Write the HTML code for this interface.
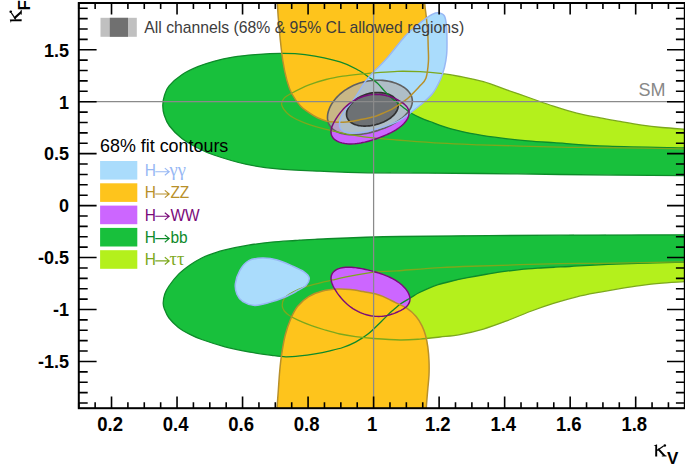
<!DOCTYPE html>
<html><head><meta charset="utf-8"><style>
html,body{margin:0;padding:0;background:#fff;width:685px;height:470px;overflow:hidden}
svg{display:block}

</style></head><body>
<svg width="685" height="470" viewBox="0 0 685 470">
<defs><clipPath id="fr"><rect x="78.8" y="3" width="606" height="405.2"/></clipPath></defs>
<rect width="685" height="470" fill="#fff"/>
<g clip-path="url(#fr)">
<path d="M281.80,105.30 C281.03,102.62 282.30,100.35 284.00,98.30 C285.70,96.25 287.83,95.23 292.00,93.00 C296.17,90.77 303.33,87.15 309.00,84.90 C314.67,82.65 320.33,80.95 326.00,79.50 C331.67,78.05 337.33,77.08 343.00,76.20 C348.67,75.32 354.67,74.75 360.00,74.20 C365.33,73.65 368.77,73.38 375.00,72.90 C381.23,72.42 389.90,71.50 397.40,71.30 C404.90,71.10 412.83,71.35 420.00,71.70 C427.17,72.05 433.73,72.60 440.40,73.40 C447.07,74.20 452.83,75.12 460.00,76.50 C467.17,77.88 475.62,79.47 483.40,81.70 C491.18,83.93 498.92,87.18 506.70,89.90 C514.48,92.62 522.32,95.28 530.10,98.00 C537.88,100.72 545.62,103.67 553.40,106.20 C561.18,108.73 569.00,111.25 576.80,113.20 C584.60,115.15 593.00,116.53 600.20,117.90 C607.40,119.27 613.37,120.25 620.00,121.40 C626.63,122.55 633.00,123.78 640.00,124.80 C647.00,125.82 654.50,126.78 662.00,127.50 C669.50,128.22 677.00,128.60 685.00,129.10 C693.00,129.60 705.83,127.10 710.00,130.50 C714.17,133.90 714.17,146.43 710.00,149.50 C705.83,152.57 703.33,149.23 685.00,148.90 C666.67,148.57 620.83,147.78 600.00,147.50 C579.17,147.22 580.00,147.65 560.00,147.20 C540.00,146.75 499.90,145.47 480.00,144.80 C460.10,144.13 454.47,144.00 440.60,143.20 C426.73,142.40 407.73,140.83 396.80,140.00 C385.87,139.17 382.55,139.07 375.00,138.20 C367.45,137.33 358.25,135.93 351.50,134.80 C344.75,133.67 340.17,132.67 334.50,131.40 C328.83,130.13 323.17,128.90 317.50,127.20 C311.83,125.50 305.32,123.33 300.50,121.20 C295.68,119.07 291.72,117.05 288.60,114.40 C285.48,111.75 282.57,107.98 281.80,105.30 Z" fill="#b4f01c"/>
<path d="M282.20,305.50 C282.23,303.33 282.85,300.17 284.50,298.00 C286.15,295.83 289.02,294.25 292.10,292.50 C295.18,290.75 298.77,288.98 303.00,287.50 C307.23,286.02 312.25,284.92 317.50,283.60 C322.75,282.28 328.83,280.90 334.50,279.60 C340.17,278.30 344.75,277.03 351.50,275.80 C358.25,274.57 367.45,273.03 375.00,272.20 C382.55,271.37 385.87,271.57 396.80,270.80 C407.73,270.03 426.73,268.40 440.60,267.60 C454.47,266.80 460.10,266.67 480.00,266.00 C499.90,265.33 540.00,264.05 560.00,263.60 C580.00,263.15 579.17,263.58 600.00,263.30 C620.83,263.02 666.67,262.23 685.00,261.90 C703.33,261.57 705.83,258.23 710.00,261.30 C714.17,264.37 714.17,276.92 710.00,280.30 C705.83,283.68 693.00,281.12 685.00,281.60 C677.00,282.08 669.50,282.53 662.00,283.20 C654.50,283.87 647.00,284.70 640.00,285.60 C633.00,286.50 626.63,287.52 620.00,288.60 C613.37,289.68 607.40,290.73 600.20,292.10 C593.00,293.47 584.60,294.92 576.80,296.80 C569.00,298.68 561.18,300.95 553.40,303.40 C545.62,305.85 537.88,308.58 530.10,311.50 C522.32,314.42 514.48,317.97 506.70,320.90 C498.92,323.83 491.18,326.82 483.40,329.10 C475.62,331.38 467.23,333.28 460.00,334.60 C452.77,335.92 446.67,336.25 440.00,337.00 C433.33,337.75 426.67,338.60 420.00,339.10 C413.33,339.60 407.77,340.10 400.00,340.00 C392.23,339.90 380.82,339.07 373.40,338.50 C365.98,337.93 361.07,337.35 355.50,336.60 C349.93,335.85 345.08,335.10 340.00,334.00 C334.92,332.90 329.75,331.38 325.00,330.00 C320.25,328.62 316.00,327.33 311.50,325.70 C307.00,324.07 301.68,321.90 298.00,320.20 C294.32,318.50 291.68,317.03 289.40,315.50 C287.12,313.97 285.50,312.67 284.30,311.00 C283.10,309.33 282.17,307.67 282.20,305.50 Z" fill="#b4f01c"/>
<path d="M162.80,105.00 C162.87,101.67 163.55,98.20 164.60,95.00 C165.65,91.80 166.22,89.18 169.10,85.80 C171.98,82.42 177.12,77.88 181.90,74.70 C186.68,71.52 192.48,68.93 197.80,66.70 C203.12,64.47 207.95,62.90 213.80,61.30 C219.65,59.70 225.98,58.22 232.90,57.10 C239.82,55.98 247.32,55.23 255.30,54.60 C263.28,53.97 272.52,53.30 280.80,53.30 C289.08,53.30 295.13,53.18 305.00,54.60 C314.87,56.02 331.00,59.15 340.00,61.80 C349.00,64.45 354.00,67.80 359.00,70.50 C364.00,73.20 366.92,75.88 370.00,78.00 C373.08,80.12 375.02,80.97 377.50,83.20 C379.98,85.43 382.42,88.80 384.90,91.40 C387.38,94.00 389.92,96.57 392.40,98.80 C394.88,101.03 397.57,103.05 399.80,104.80 C402.03,106.55 404.10,108.02 405.80,109.30 C407.50,110.58 407.63,111.12 410.00,112.50 C412.37,113.88 416.67,116.10 420.00,117.60 C423.33,119.10 424.83,119.63 430.00,121.50 C435.17,123.37 443.25,126.65 451.00,128.80 C458.75,130.95 468.00,132.83 476.50,134.40 C485.00,135.97 493.48,137.13 502.00,138.20 C510.52,139.27 518.93,140.05 527.60,140.80 C536.27,141.55 540.60,141.80 554.00,142.70 C567.40,143.60 586.17,145.32 608.00,146.20 C629.83,147.08 668.00,147.62 685.00,148.00 C702.00,148.38 705.83,143.83 710.00,148.50 C714.17,153.17 714.17,171.47 710.00,176.00 C705.83,180.53 710.00,175.95 685.00,175.70 C660.00,175.45 594.17,174.87 560.00,174.50 C525.83,174.13 512.07,173.78 480.00,173.50 C447.93,173.22 394.27,173.18 367.60,172.80 C340.93,172.42 335.00,171.85 320.00,171.20 C305.00,170.55 289.98,170.07 277.60,168.90 C265.22,167.73 256.33,166.52 245.70,164.20 C235.07,161.88 221.78,157.70 213.80,155.00 C205.82,152.30 203.12,150.75 197.80,148.00 C192.48,145.25 186.62,142.17 181.90,138.50 C177.18,134.83 172.45,129.92 169.50,126.00 C166.55,122.08 165.32,118.50 164.20,115.00 C163.08,111.50 162.73,108.33 162.80,105.00 Z" fill="#18c03c"/>
<path d="M163.20,303.00 C163.28,300.55 163.83,296.83 164.80,294.00 C165.77,291.17 166.73,289.27 169.00,286.00 C171.27,282.73 174.90,277.90 178.40,274.40 C181.90,270.90 186.12,267.73 190.00,265.00 C193.88,262.27 197.80,259.93 201.70,258.00 C205.60,256.07 209.52,254.75 213.40,253.40 C217.28,252.05 219.17,251.27 225.00,249.90 C230.83,248.53 240.60,246.50 248.40,245.20 C256.20,243.90 264.00,242.88 271.80,242.10 C279.60,241.32 288.00,240.97 295.20,240.50 C302.40,240.03 297.53,239.97 315.00,239.30 C332.47,238.63 359.17,237.18 400.00,236.50 C440.83,235.82 512.50,235.48 560.00,235.20 C607.50,234.92 660.00,234.92 685.00,234.80 C710.00,234.68 705.83,229.97 710.00,234.50 C714.17,239.03 714.17,257.38 710.00,262.00 C705.83,266.62 702.00,261.82 685.00,262.20 C668.00,262.58 627.17,263.58 608.00,264.30 C588.83,265.02 578.82,266.02 570.00,266.50 C561.18,266.98 560.50,266.92 555.10,267.20 C549.70,267.48 543.45,267.80 537.60,268.20 C531.75,268.60 525.83,269.02 520.00,269.60 C514.17,270.18 508.43,270.88 502.60,271.70 C496.77,272.52 490.85,273.50 485.00,274.50 C479.15,275.50 473.33,276.53 467.50,277.70 C461.67,278.87 454.90,280.35 450.00,281.50 C445.10,282.65 441.68,283.47 438.10,284.60 C434.52,285.73 431.70,286.93 428.50,288.30 C425.30,289.67 421.93,291.18 418.90,292.80 C415.87,294.42 413.33,296.17 410.30,298.00 C407.27,299.83 403.25,302.05 400.70,303.80 C398.15,305.55 396.78,307.00 395.00,308.50 C393.22,310.00 392.32,310.60 390.00,312.80 C387.68,315.00 384.72,318.20 381.10,321.70 C377.48,325.20 372.57,330.40 368.30,333.80 C364.03,337.20 359.75,339.82 355.50,342.10 C351.25,344.38 347.05,346.05 342.80,347.50 C338.55,348.95 334.63,349.75 330.00,350.80 C325.37,351.85 320.00,352.95 315.00,353.80 C310.00,354.65 304.87,355.40 300.00,355.90 C295.13,356.40 290.50,356.88 285.80,356.80 C281.10,356.72 278.03,356.22 271.80,355.40 C265.57,354.58 256.20,353.33 248.40,351.90 C240.60,350.47 232.78,348.87 225.00,346.80 C217.22,344.73 207.53,341.57 201.70,339.50 C195.87,337.43 193.88,336.42 190.00,334.40 C186.12,332.38 181.90,330.13 178.40,327.40 C174.90,324.67 171.35,321.12 169.00,318.00 C166.65,314.88 165.27,311.20 164.30,308.70 C163.33,306.20 163.12,305.45 163.20,303.00 Z" fill="#18c03c"/>
<path d="M406.56,106.44 L407.27,107.41 L407.87,108.43 L408.36,109.51 L408.72,110.64 L408.94,111.82 L409.02,113.05 L408.93,114.32 L408.68,115.63 L408.27,116.96 L407.69,118.31 L406.94,119.66 L406.03,121.02 L404.97,122.36 L403.76,123.69 L402.42,124.99 L400.97,126.25 L399.40,127.48 L397.75,128.65 L396.03,129.78 L394.25,130.85 L392.43,131.87 L390.57,132.84 L388.70,133.75 L386.82,134.62 L384.94,135.44 L383.07,136.21 L381.21,136.95 L379.36,137.65 L377.52,138.31 L375.68,138.95 L373.86,139.55 L372.03,140.13 L370.20,140.69 L368.36,141.21 L366.50,141.70 L364.63,142.16 L362.73,142.58 L360.82,142.96 L358.88,143.28 L356.93,143.55 L354.97,143.76 L353.01,143.89 L351.05,143.95 L349.11,143.92 L347.20,143.81 L345.34,143.61 L343.53,143.31 L341.81,142.91 L340.17,142.42 L338.64,141.84 L337.22,141.17 L335.94,140.42 L334.79,139.58 L333.79,138.67 L332.95,137.70 L332.25,136.67 L331.72,135.59 L331.33,134.47 L331.08,133.33 L330.98,132.15 L331.00,130.96 L331.14,129.76 L331.39,128.55 L331.74,127.34 L332.17,126.13 L332.67,124.92 L333.23,123.71 L333.85,122.51 L334.52,121.30 L335.23,120.09 L335.98,118.87 L336.77,117.65 L337.59,116.42 L338.46,115.18 L339.37,113.93 L340.33,112.67 L341.35,111.40 L342.43,110.13 L343.59,108.86 L344.82,107.59 L346.13,106.34 L347.53,105.10 L349.01,103.89 L350.58,102.71 L352.24,101.59 L353.99,100.51 L355.81,99.51 L357.70,98.57 L359.66,97.72 L361.66,96.96 L363.70,96.30 L365.77,95.73 L367.84,95.26 L369.91,94.90 L371.97,94.64 L373.99,94.48 L375.97,94.41 L377.91,94.43 L379.78,94.54 L381.59,94.73 L383.34,94.98 L385.01,95.30 L386.62,95.67 L388.16,96.08 L389.63,96.53 L391.05,97.01 L392.41,97.52 L393.73,98.05 L395.00,98.61 L396.23,99.18 L397.43,99.77 L398.60,100.38 L399.74,101.01 L400.85,101.67 L401.93,102.36 L402.96,103.09 L403.96,103.86 L404.89,104.67 L405.76,105.53 Z" fill="#cc66ff"/>
<path d="M407.65,305.31 L406.89,306.15 L406.05,306.95 L405.14,307.69 L404.18,308.39 L403.16,309.05 L402.10,309.68 L400.99,310.29 L399.85,310.88 L398.68,311.44 L397.46,312.00 L396.20,312.53 L394.90,313.06 L393.56,313.57 L392.16,314.06 L390.70,314.52 L389.19,314.95 L387.61,315.34 L385.96,315.69 L384.24,315.97 L382.46,316.20 L380.61,316.35 L378.71,316.41 L376.75,316.39 L374.74,316.27 L372.70,316.05 L370.63,315.73 L368.55,315.30 L366.46,314.77 L364.39,314.14 L362.34,313.42 L360.34,312.60 L358.38,311.69 L356.48,310.72 L354.64,309.67 L352.89,308.57 L351.21,307.42 L349.62,306.23 L348.12,305.02 L346.69,303.79 L345.36,302.54 L344.10,301.29 L342.91,300.04 L341.79,298.79 L340.74,297.55 L339.74,296.31 L338.79,295.08 L337.88,293.86 L337.02,292.64 L336.21,291.42 L335.43,290.20 L334.69,288.98 L334.00,287.76 L333.36,286.53 L332.78,285.29 L332.26,284.05 L331.82,282.81 L331.47,281.56 L331.22,280.32 L331.07,279.09 L331.05,277.88 L331.16,276.69 L331.41,275.54 L331.80,274.43 L332.35,273.37 L333.05,272.37 L333.91,271.45 L334.92,270.60 L336.08,269.84 L337.38,269.17 L338.81,268.59 L340.37,268.12 L342.04,267.74 L343.80,267.47 L345.64,267.28 L347.55,267.19 L349.51,267.19 L351.51,267.27 L353.53,267.42 L355.56,267.64 L357.60,267.91 L359.63,268.24 L361.64,268.60 L363.64,269.00 L365.62,269.43 L367.58,269.89 L369.51,270.37 L371.43,270.87 L373.34,271.39 L375.23,271.93 L377.12,272.49 L379.00,273.08 L380.88,273.71 L382.76,274.37 L384.64,275.07 L386.52,275.83 L388.39,276.64 L390.26,277.50 L392.10,278.43 L393.92,279.42 L395.70,280.48 L397.43,281.60 L399.10,282.78 L400.69,284.02 L402.20,285.30 L403.60,286.64 L404.88,288.00 L406.04,289.39 L407.06,290.80 L407.93,292.21 L408.65,293.61 L409.21,295.00 L409.62,296.35 L409.86,297.66 L409.95,298.93 L409.89,300.15 L409.69,301.31 L409.35,302.40 L408.89,303.43 L408.32,304.40 Z" fill="#cc66ff"/>
<path d="M277.00,-12.00 C252.47,-9.50 276.92,-3.97 277.30,3.00 C277.68,9.97 278.40,20.30 279.30,29.80 C280.20,39.30 281.43,51.57 282.70,60.00 C283.97,68.43 285.35,74.73 286.90,80.40 C288.45,86.07 289.73,89.75 292.00,94.00 C294.27,98.25 297.67,102.78 300.50,105.90 C303.33,109.02 306.17,110.72 309.00,112.70 C311.83,114.68 314.67,116.43 317.50,117.80 C320.33,119.17 323.17,120.18 326.00,120.90 C328.83,121.62 331.67,121.87 334.50,122.10 C337.33,122.33 340.33,122.38 343.00,122.30 C345.67,122.22 347.83,122.00 350.50,121.60 C353.17,121.20 356.17,120.47 359.00,119.90 C361.83,119.33 364.83,118.77 367.50,118.20 C370.17,117.63 372.42,117.33 375.00,116.50 C377.58,115.67 380.23,114.40 383.00,113.20 C385.77,112.00 388.80,110.82 391.60,109.30 C394.40,107.78 397.18,105.85 399.80,104.10 C402.42,102.35 404.82,100.92 407.30,98.80 C409.78,96.68 412.62,93.53 414.70,91.40 C416.78,89.27 417.93,88.18 419.80,86.00 C421.67,83.82 424.47,82.30 425.90,78.30 C427.33,74.30 428.02,67.22 428.40,62.00 C428.78,56.78 428.32,52.02 428.20,47.00 C428.08,41.98 428.02,36.90 427.70,31.90 C427.38,26.90 426.80,21.82 426.30,17.00 C425.80,12.18 425.00,7.83 424.70,3.00 C424.40,-1.83 449.12,-9.50 424.50,-12.00 C399.88,-14.50 301.53,-14.50 277.00,-12.00 Z" fill="#fec41c"/>
<path d="M276.50,420.00 C251.65,418.33 276.60,414.88 276.90,410.00 C277.20,405.12 277.83,397.15 278.30,390.70 C278.77,384.25 279.15,377.30 279.70,371.30 C280.25,365.30 280.68,360.70 281.60,354.70 C282.52,348.70 283.67,341.30 285.20,335.30 C286.73,329.30 288.72,323.53 290.80,318.70 C292.88,313.87 294.72,309.98 297.70,306.30 C300.68,302.62 304.55,299.13 308.70,296.60 C312.85,294.07 317.75,292.35 322.60,291.10 C327.45,289.85 333.15,289.35 337.80,289.10 C342.45,288.85 346.25,289.18 350.50,289.60 C354.75,290.02 359.22,290.90 363.30,291.60 C367.38,292.30 371.75,293.00 375.00,293.80 C378.25,294.60 379.47,294.98 382.80,296.40 C386.13,297.82 391.02,300.33 395.00,302.30 C398.98,304.27 403.18,305.85 406.70,308.20 C410.22,310.55 413.55,313.47 416.10,316.40 C418.65,319.33 420.43,322.67 422.00,325.80 C423.57,328.93 424.53,331.68 425.50,335.20 C426.47,338.72 427.22,342.62 427.80,346.90 C428.38,351.18 428.80,356.22 429.00,360.90 C429.20,365.58 429.20,370.32 429.00,375.00 C428.80,379.68 428.20,384.32 427.80,389.00 C427.40,393.68 426.87,399.60 426.60,403.10 C426.33,406.60 426.30,407.18 426.20,410.00 C426.10,412.82 450.95,418.33 426.00,420.00 C401.05,421.67 301.35,421.67 276.50,420.00 Z" fill="#fec41c"/>
<path d="M438.00,12.80 C440.07,13.05 442.98,13.70 444.40,16.00 C445.82,18.30 446.07,22.17 446.50,26.60 C446.93,31.03 446.98,37.87 447.00,42.60 C447.02,47.33 447.02,50.88 446.60,55.00 C446.18,59.12 445.53,63.22 444.50,67.30 C443.47,71.38 442.43,75.08 440.40,79.50 C438.37,83.92 435.70,89.50 432.30,93.80 C428.90,98.10 424.00,101.87 420.00,105.30 C416.00,108.73 411.67,111.90 408.30,114.40 C404.93,116.90 402.63,118.68 399.80,120.30 C396.97,121.92 394.13,122.97 391.30,124.10 C388.47,125.23 385.60,126.22 382.80,127.10 C380.00,127.98 377.05,128.68 374.50,129.40 C371.95,130.12 370.08,130.85 367.50,131.40 C364.92,131.95 361.83,132.42 359.00,132.70 C356.17,132.98 352.90,133.25 350.50,133.10 C348.10,132.95 346.30,132.58 344.60,131.80 C342.90,131.02 341.15,129.82 340.30,128.40 C339.45,126.98 339.35,125.28 339.50,123.30 C339.65,121.32 340.12,118.88 341.20,116.50 C342.28,114.12 343.73,112.07 346.00,109.00 C348.27,105.93 352.08,101.90 354.80,98.10 C357.52,94.30 359.93,89.73 362.30,86.20 C364.67,82.67 365.05,81.38 369.00,76.90 C372.95,72.42 380.00,66.08 386.00,59.30 C392.00,52.52 400.07,41.65 405.00,36.20 C409.93,30.75 412.05,29.62 415.60,26.60 C419.15,23.58 423.57,20.12 426.30,18.10 C429.03,16.08 430.05,15.38 432.00,14.50 C433.95,13.62 435.93,12.55 438.00,12.80 Z" fill="#aadcfc"/>
<path d="M235.40,283.70 C235.90,279.72 237.67,274.15 239.90,270.30 C242.13,266.45 245.07,262.63 248.80,260.60 C252.53,258.57 257.57,258.22 262.30,258.10 C267.03,257.98 272.23,258.60 277.20,259.90 C282.17,261.20 287.63,263.92 292.10,265.90 C296.57,267.88 301.15,269.82 304.00,271.80 C306.85,273.78 308.83,275.57 309.20,277.80 C309.57,280.03 308.32,282.97 306.20,285.20 C304.08,287.43 300.10,289.20 296.50,291.20 C292.90,293.20 289.07,295.33 284.60,297.20 C280.13,299.07 274.67,301.03 269.70,302.40 C264.73,303.77 259.27,305.53 254.80,305.40 C250.33,305.27 245.88,303.47 242.90,301.60 C239.92,299.73 238.15,297.18 236.90,294.20 C235.65,291.22 234.90,287.68 235.40,283.70 Z" fill="#aadcfc"/>
<path d="M411.30,95.88 L411.75,97.11 L412.07,98.36 L412.27,99.64 L412.35,100.93 L412.30,102.24 L412.12,103.56 L411.81,104.89 L411.38,106.22 L410.83,107.56 L410.14,108.89 L409.34,110.23 L408.41,111.56 L407.37,112.88 L406.20,114.18 L404.93,115.48 L403.55,116.75 L402.06,118.01 L400.47,119.24 L398.79,120.45 L397.01,121.62 L395.16,122.77 L393.22,123.87 L391.21,124.94 L389.14,125.97 L387.01,126.96 L384.83,127.90 L382.60,128.78 L380.33,129.62 L378.04,130.40 L375.72,131.13 L373.39,131.79 L371.05,132.39 L368.72,132.93 L366.38,133.41 L364.07,133.81 L361.77,134.14 L359.51,134.41 L357.28,134.60 L355.09,134.71 L352.96,134.75 L350.87,134.72 L348.85,134.60 L346.90,134.41 L345.02,134.15 L343.21,133.80 L341.49,133.38 L339.85,132.89 L338.30,132.31 L336.85,131.67 L335.49,130.95 L334.24,130.16 L333.08,129.30 L332.03,128.37 L331.09,127.38 L330.25,126.33 L329.53,125.22 L328.91,124.06 L328.40,122.84 L328.01,121.57 L327.72,120.26 L327.55,118.91 L327.48,117.52 L327.52,116.11 L327.67,114.66 L327.93,113.19 L328.29,111.70 L328.76,110.20 L329.32,108.69 L329.99,107.18 L330.75,105.67 L331.60,104.16 L332.55,102.66 L333.58,101.19 L334.71,99.73 L335.91,98.29 L337.20,96.89 L338.56,95.52 L339.99,94.18 L341.50,92.89 L343.08,91.65 L344.71,90.45 L346.41,89.31 L348.17,88.23 L349.97,87.20 L351.83,86.24 L353.73,85.34 L355.67,84.51 L357.65,83.75 L359.66,83.06 L361.70,82.44 L363.76,81.89 L365.84,81.42 L367.94,81.03 L370.04,80.71 L372.15,80.47 L374.26,80.30 L376.37,80.21 L378.46,80.20 L380.54,80.26 L382.60,80.40 L384.63,80.60 L386.63,80.88 L388.60,81.23 L390.52,81.65 L392.40,82.13 L394.22,82.68 L395.98,83.30 L397.68,83.97 L399.31,84.70 L400.87,85.49 L402.34,86.33 L403.73,87.22 L405.04,88.16 L406.25,89.15 L407.36,90.18 L408.37,91.25 L409.27,92.36 L410.06,93.50 L410.74,94.68 Z" fill="#b2b2b2" fill-opacity="0.71" stroke="#606060" stroke-width="1.6"/>
<path d="M397.75,102.82 L397.96,103.62 L398.10,104.44 L398.16,105.27 L398.16,106.11 L398.08,106.96 L397.93,107.82 L397.71,108.67 L397.41,109.53 L397.04,110.39 L396.61,111.24 L396.10,112.09 L395.52,112.93 L394.88,113.76 L394.18,114.58 L393.41,115.39 L392.58,116.18 L391.69,116.95 L390.75,117.70 L389.75,118.43 L388.70,119.14 L387.60,119.82 L386.47,120.47 L385.29,121.10 L384.07,121.69 L382.82,122.25 L381.54,122.78 L380.23,123.28 L378.90,123.73 L377.55,124.15 L376.19,124.53 L374.82,124.87 L373.44,125.17 L372.06,125.43 L370.68,125.64 L369.30,125.81 L367.94,125.94 L366.58,126.02 L365.25,126.05 L363.94,126.05 L362.65,125.99 L361.39,125.89 L360.17,125.75 L358.98,125.56 L357.83,125.32 L356.72,125.04 L355.65,124.72 L354.64,124.36 L353.67,123.95 L352.76,123.50 L351.90,123.01 L351.10,122.48 L350.36,121.92 L349.68,121.31 L349.07,120.68 L348.52,120.01 L348.03,119.31 L347.62,118.58 L347.27,117.83 L346.99,117.05 L346.77,116.24 L346.63,115.42 L346.56,114.58 L346.55,113.72 L346.62,112.85 L346.75,111.97 L346.95,111.08 L347.22,110.18 L347.56,109.28 L347.96,108.38 L348.42,107.49 L348.95,106.60 L349.53,105.71 L350.18,104.84 L350.89,103.98 L351.65,103.13 L352.46,102.30 L353.33,101.49 L354.24,100.71 L355.21,99.95 L356.21,99.21 L357.26,98.51 L358.35,97.84 L359.47,97.19 L360.63,96.59 L361.82,96.02 L363.03,95.49 L364.27,95.00 L365.53,94.55 L366.81,94.14 L368.11,93.77 L369.41,93.45 L370.73,93.18 L372.05,92.95 L373.37,92.77 L374.69,92.63 L376.00,92.54 L377.31,92.49 L378.60,92.50 L379.88,92.55 L381.14,92.65 L382.38,92.79 L383.59,92.98 L384.78,93.21 L385.93,93.48 L387.05,93.80 L388.13,94.17 L389.16,94.57 L390.16,95.01 L391.11,95.49 L392.00,96.01 L392.85,96.56 L393.64,97.14 L394.38,97.76 L395.05,98.41 L395.66,99.08 L396.21,99.79 L396.70,100.51 L397.12,101.26 L397.47,102.03 Z" fill="#575757" fill-opacity="0.74" stroke="#303030" stroke-width="1.7"/>
<path d="M162.80,105.00 C162.87,101.67 163.55,98.20 164.60,95.00 C165.65,91.80 166.22,89.18 169.10,85.80 C171.98,82.42 177.12,77.88 181.90,74.70 C186.68,71.52 192.48,68.93 197.80,66.70 C203.12,64.47 207.95,62.90 213.80,61.30 C219.65,59.70 225.98,58.22 232.90,57.10 C239.82,55.98 247.32,55.23 255.30,54.60 C263.28,53.97 272.52,53.30 280.80,53.30 C289.08,53.30 295.13,53.18 305.00,54.60 C314.87,56.02 331.00,59.15 340.00,61.80 C349.00,64.45 354.00,67.80 359.00,70.50 C364.00,73.20 366.92,75.88 370.00,78.00 C373.08,80.12 375.02,80.97 377.50,83.20 C379.98,85.43 382.42,88.80 384.90,91.40 C387.38,94.00 389.92,96.57 392.40,98.80 C394.88,101.03 397.57,103.05 399.80,104.80 C402.03,106.55 404.10,108.02 405.80,109.30 C407.50,110.58 407.63,111.12 410.00,112.50 C412.37,113.88 416.67,116.10 420.00,117.60 C423.33,119.10 424.83,119.63 430.00,121.50 C435.17,123.37 443.25,126.65 451.00,128.80 C458.75,130.95 468.00,132.83 476.50,134.40 C485.00,135.97 493.48,137.13 502.00,138.20 C510.52,139.27 518.93,140.05 527.60,140.80 C536.27,141.55 540.60,141.80 554.00,142.70 C567.40,143.60 586.17,145.32 608.00,146.20 C629.83,147.08 668.00,147.62 685.00,148.00 C702.00,148.38 705.83,143.83 710.00,148.50 C714.17,153.17 714.17,171.47 710.00,176.00 C705.83,180.53 710.00,175.95 685.00,175.70 C660.00,175.45 594.17,174.87 560.00,174.50 C525.83,174.13 512.07,173.78 480.00,173.50 C447.93,173.22 394.27,173.18 367.60,172.80 C340.93,172.42 335.00,171.85 320.00,171.20 C305.00,170.55 289.98,170.07 277.60,168.90 C265.22,167.73 256.33,166.52 245.70,164.20 C235.07,161.88 221.78,157.70 213.80,155.00 C205.82,152.30 203.12,150.75 197.80,148.00 C192.48,145.25 186.62,142.17 181.90,138.50 C177.18,134.83 172.45,129.92 169.50,126.00 C166.55,122.08 165.32,118.50 164.20,115.00 C163.08,111.50 162.73,108.33 162.80,105.00 Z" fill="none" stroke="#0e8a2a" stroke-width="1.3"/>
<path d="M163.20,303.00 C163.28,300.55 163.83,296.83 164.80,294.00 C165.77,291.17 166.73,289.27 169.00,286.00 C171.27,282.73 174.90,277.90 178.40,274.40 C181.90,270.90 186.12,267.73 190.00,265.00 C193.88,262.27 197.80,259.93 201.70,258.00 C205.60,256.07 209.52,254.75 213.40,253.40 C217.28,252.05 219.17,251.27 225.00,249.90 C230.83,248.53 240.60,246.50 248.40,245.20 C256.20,243.90 264.00,242.88 271.80,242.10 C279.60,241.32 288.00,240.97 295.20,240.50 C302.40,240.03 297.53,239.97 315.00,239.30 C332.47,238.63 359.17,237.18 400.00,236.50 C440.83,235.82 512.50,235.48 560.00,235.20 C607.50,234.92 660.00,234.92 685.00,234.80 C710.00,234.68 705.83,229.97 710.00,234.50 C714.17,239.03 714.17,257.38 710.00,262.00 C705.83,266.62 702.00,261.82 685.00,262.20 C668.00,262.58 627.17,263.58 608.00,264.30 C588.83,265.02 578.82,266.02 570.00,266.50 C561.18,266.98 560.50,266.92 555.10,267.20 C549.70,267.48 543.45,267.80 537.60,268.20 C531.75,268.60 525.83,269.02 520.00,269.60 C514.17,270.18 508.43,270.88 502.60,271.70 C496.77,272.52 490.85,273.50 485.00,274.50 C479.15,275.50 473.33,276.53 467.50,277.70 C461.67,278.87 454.90,280.35 450.00,281.50 C445.10,282.65 441.68,283.47 438.10,284.60 C434.52,285.73 431.70,286.93 428.50,288.30 C425.30,289.67 421.93,291.18 418.90,292.80 C415.87,294.42 413.33,296.17 410.30,298.00 C407.27,299.83 403.25,302.05 400.70,303.80 C398.15,305.55 396.78,307.00 395.00,308.50 C393.22,310.00 392.32,310.60 390.00,312.80 C387.68,315.00 384.72,318.20 381.10,321.70 C377.48,325.20 372.57,330.40 368.30,333.80 C364.03,337.20 359.75,339.82 355.50,342.10 C351.25,344.38 347.05,346.05 342.80,347.50 C338.55,348.95 334.63,349.75 330.00,350.80 C325.37,351.85 320.00,352.95 315.00,353.80 C310.00,354.65 304.87,355.40 300.00,355.90 C295.13,356.40 290.50,356.88 285.80,356.80 C281.10,356.72 278.03,356.22 271.80,355.40 C265.57,354.58 256.20,353.33 248.40,351.90 C240.60,350.47 232.78,348.87 225.00,346.80 C217.22,344.73 207.53,341.57 201.70,339.50 C195.87,337.43 193.88,336.42 190.00,334.40 C186.12,332.38 181.90,330.13 178.40,327.40 C174.90,324.67 171.35,321.12 169.00,318.00 C166.65,314.88 165.27,311.20 164.30,308.70 C163.33,306.20 163.12,305.45 163.20,303.00 Z" fill="none" stroke="#0e8a2a" stroke-width="1.3"/>
<path d="M281.80,105.30 C281.03,102.62 282.30,100.35 284.00,98.30 C285.70,96.25 287.83,95.23 292.00,93.00 C296.17,90.77 303.33,87.15 309.00,84.90 C314.67,82.65 320.33,80.95 326.00,79.50 C331.67,78.05 337.33,77.08 343.00,76.20 C348.67,75.32 354.67,74.75 360.00,74.20 C365.33,73.65 368.77,73.38 375.00,72.90 C381.23,72.42 389.90,71.50 397.40,71.30 C404.90,71.10 412.83,71.35 420.00,71.70 C427.17,72.05 433.73,72.60 440.40,73.40 C447.07,74.20 452.83,75.12 460.00,76.50 C467.17,77.88 475.62,79.47 483.40,81.70 C491.18,83.93 498.92,87.18 506.70,89.90 C514.48,92.62 522.32,95.28 530.10,98.00 C537.88,100.72 545.62,103.67 553.40,106.20 C561.18,108.73 569.00,111.25 576.80,113.20 C584.60,115.15 593.00,116.53 600.20,117.90 C607.40,119.27 613.37,120.25 620.00,121.40 C626.63,122.55 633.00,123.78 640.00,124.80 C647.00,125.82 654.50,126.78 662.00,127.50 C669.50,128.22 677.00,128.60 685.00,129.10 C693.00,129.60 705.83,127.10 710.00,130.50 C714.17,133.90 714.17,146.43 710.00,149.50 C705.83,152.57 703.33,149.23 685.00,148.90 C666.67,148.57 620.83,147.78 600.00,147.50 C579.17,147.22 580.00,147.65 560.00,147.20 C540.00,146.75 499.90,145.47 480.00,144.80 C460.10,144.13 454.47,144.00 440.60,143.20 C426.73,142.40 407.73,140.83 396.80,140.00 C385.87,139.17 382.55,139.07 375.00,138.20 C367.45,137.33 358.25,135.93 351.50,134.80 C344.75,133.67 340.17,132.67 334.50,131.40 C328.83,130.13 323.17,128.90 317.50,127.20 C311.83,125.50 305.32,123.33 300.50,121.20 C295.68,119.07 291.72,117.05 288.60,114.40 C285.48,111.75 282.57,107.98 281.80,105.30 Z" fill="none" stroke="#7ca81c" stroke-width="1.3"/>
<path d="M282.20,305.50 C282.23,303.33 282.85,300.17 284.50,298.00 C286.15,295.83 289.02,294.25 292.10,292.50 C295.18,290.75 298.77,288.98 303.00,287.50 C307.23,286.02 312.25,284.92 317.50,283.60 C322.75,282.28 328.83,280.90 334.50,279.60 C340.17,278.30 344.75,277.03 351.50,275.80 C358.25,274.57 367.45,273.03 375.00,272.20 C382.55,271.37 385.87,271.57 396.80,270.80 C407.73,270.03 426.73,268.40 440.60,267.60 C454.47,266.80 460.10,266.67 480.00,266.00 C499.90,265.33 540.00,264.05 560.00,263.60 C580.00,263.15 579.17,263.58 600.00,263.30 C620.83,263.02 666.67,262.23 685.00,261.90 C703.33,261.57 705.83,258.23 710.00,261.30 C714.17,264.37 714.17,276.92 710.00,280.30 C705.83,283.68 693.00,281.12 685.00,281.60 C677.00,282.08 669.50,282.53 662.00,283.20 C654.50,283.87 647.00,284.70 640.00,285.60 C633.00,286.50 626.63,287.52 620.00,288.60 C613.37,289.68 607.40,290.73 600.20,292.10 C593.00,293.47 584.60,294.92 576.80,296.80 C569.00,298.68 561.18,300.95 553.40,303.40 C545.62,305.85 537.88,308.58 530.10,311.50 C522.32,314.42 514.48,317.97 506.70,320.90 C498.92,323.83 491.18,326.82 483.40,329.10 C475.62,331.38 467.23,333.28 460.00,334.60 C452.77,335.92 446.67,336.25 440.00,337.00 C433.33,337.75 426.67,338.60 420.00,339.10 C413.33,339.60 407.77,340.10 400.00,340.00 C392.23,339.90 380.82,339.07 373.40,338.50 C365.98,337.93 361.07,337.35 355.50,336.60 C349.93,335.85 345.08,335.10 340.00,334.00 C334.92,332.90 329.75,331.38 325.00,330.00 C320.25,328.62 316.00,327.33 311.50,325.70 C307.00,324.07 301.68,321.90 298.00,320.20 C294.32,318.50 291.68,317.03 289.40,315.50 C287.12,313.97 285.50,312.67 284.30,311.00 C283.10,309.33 282.17,307.67 282.20,305.50 Z" fill="none" stroke="#7ca81c" stroke-width="1.3"/>
<path d="M277.00,-12.00 C252.47,-9.50 276.92,-3.97 277.30,3.00 C277.68,9.97 278.40,20.30 279.30,29.80 C280.20,39.30 281.43,51.57 282.70,60.00 C283.97,68.43 285.35,74.73 286.90,80.40 C288.45,86.07 289.73,89.75 292.00,94.00 C294.27,98.25 297.67,102.78 300.50,105.90 C303.33,109.02 306.17,110.72 309.00,112.70 C311.83,114.68 314.67,116.43 317.50,117.80 C320.33,119.17 323.17,120.18 326.00,120.90 C328.83,121.62 331.67,121.87 334.50,122.10 C337.33,122.33 340.33,122.38 343.00,122.30 C345.67,122.22 347.83,122.00 350.50,121.60 C353.17,121.20 356.17,120.47 359.00,119.90 C361.83,119.33 364.83,118.77 367.50,118.20 C370.17,117.63 372.42,117.33 375.00,116.50 C377.58,115.67 380.23,114.40 383.00,113.20 C385.77,112.00 388.80,110.82 391.60,109.30 C394.40,107.78 397.18,105.85 399.80,104.10 C402.42,102.35 404.82,100.92 407.30,98.80 C409.78,96.68 412.62,93.53 414.70,91.40 C416.78,89.27 417.93,88.18 419.80,86.00 C421.67,83.82 424.47,82.30 425.90,78.30 C427.33,74.30 428.02,67.22 428.40,62.00 C428.78,56.78 428.32,52.02 428.20,47.00 C428.08,41.98 428.02,36.90 427.70,31.90 C427.38,26.90 426.80,21.82 426.30,17.00 C425.80,12.18 425.00,7.83 424.70,3.00 C424.40,-1.83 449.12,-9.50 424.50,-12.00 C399.88,-14.50 301.53,-14.50 277.00,-12.00 Z" fill="none" stroke="#b8902a" stroke-width="1.5"/>
<path d="M276.50,420.00 C251.65,418.33 276.60,414.88 276.90,410.00 C277.20,405.12 277.83,397.15 278.30,390.70 C278.77,384.25 279.15,377.30 279.70,371.30 C280.25,365.30 280.68,360.70 281.60,354.70 C282.52,348.70 283.67,341.30 285.20,335.30 C286.73,329.30 288.72,323.53 290.80,318.70 C292.88,313.87 294.72,309.98 297.70,306.30 C300.68,302.62 304.55,299.13 308.70,296.60 C312.85,294.07 317.75,292.35 322.60,291.10 C327.45,289.85 333.15,289.35 337.80,289.10 C342.45,288.85 346.25,289.18 350.50,289.60 C354.75,290.02 359.22,290.90 363.30,291.60 C367.38,292.30 371.75,293.00 375.00,293.80 C378.25,294.60 379.47,294.98 382.80,296.40 C386.13,297.82 391.02,300.33 395.00,302.30 C398.98,304.27 403.18,305.85 406.70,308.20 C410.22,310.55 413.55,313.47 416.10,316.40 C418.65,319.33 420.43,322.67 422.00,325.80 C423.57,328.93 424.53,331.68 425.50,335.20 C426.47,338.72 427.22,342.62 427.80,346.90 C428.38,351.18 428.80,356.22 429.00,360.90 C429.20,365.58 429.20,370.32 429.00,375.00 C428.80,379.68 428.20,384.32 427.80,389.00 C427.40,393.68 426.87,399.60 426.60,403.10 C426.33,406.60 426.30,407.18 426.20,410.00 C426.10,412.82 450.95,418.33 426.00,420.00 C401.05,421.67 301.35,421.67 276.50,420.00 Z" fill="none" stroke="#b8902a" stroke-width="1.5"/>
<path d="M438.00,12.80 C440.07,13.05 442.98,13.70 444.40,16.00 C445.82,18.30 446.07,22.17 446.50,26.60 C446.93,31.03 446.98,37.87 447.00,42.60 C447.02,47.33 447.02,50.88 446.60,55.00 C446.18,59.12 445.53,63.22 444.50,67.30 C443.47,71.38 442.43,75.08 440.40,79.50 C438.37,83.92 435.70,89.50 432.30,93.80 C428.90,98.10 424.00,101.87 420.00,105.30 C416.00,108.73 411.67,111.90 408.30,114.40 C404.93,116.90 402.63,118.68 399.80,120.30 C396.97,121.92 394.13,122.97 391.30,124.10 C388.47,125.23 385.60,126.22 382.80,127.10 C380.00,127.98 377.05,128.68 374.50,129.40 C371.95,130.12 370.08,130.85 367.50,131.40 C364.92,131.95 361.83,132.42 359.00,132.70 C356.17,132.98 352.90,133.25 350.50,133.10 C348.10,132.95 346.30,132.58 344.60,131.80 C342.90,131.02 341.15,129.82 340.30,128.40 C339.45,126.98 339.35,125.28 339.50,123.30 C339.65,121.32 340.12,118.88 341.20,116.50 C342.28,114.12 343.73,112.07 346.00,109.00 C348.27,105.93 352.08,101.90 354.80,98.10 C357.52,94.30 359.93,89.73 362.30,86.20 C364.67,82.67 365.05,81.38 369.00,76.90 C372.95,72.42 380.00,66.08 386.00,59.30 C392.00,52.52 400.07,41.65 405.00,36.20 C409.93,30.75 412.05,29.62 415.60,26.60 C419.15,23.58 423.57,20.12 426.30,18.10 C429.03,16.08 430.05,15.38 432.00,14.50 C433.95,13.62 435.93,12.55 438.00,12.80 Z" fill="none" stroke="#98b8f4" stroke-width="1.5"/>
<path d="M235.40,283.70 C235.90,279.72 237.67,274.15 239.90,270.30 C242.13,266.45 245.07,262.63 248.80,260.60 C252.53,258.57 257.57,258.22 262.30,258.10 C267.03,257.98 272.23,258.60 277.20,259.90 C282.17,261.20 287.63,263.92 292.10,265.90 C296.57,267.88 301.15,269.82 304.00,271.80 C306.85,273.78 308.83,275.57 309.20,277.80 C309.57,280.03 308.32,282.97 306.20,285.20 C304.08,287.43 300.10,289.20 296.50,291.20 C292.90,293.20 289.07,295.33 284.60,297.20 C280.13,299.07 274.67,301.03 269.70,302.40 C264.73,303.77 259.27,305.53 254.80,305.40 C250.33,305.27 245.88,303.47 242.90,301.60 C239.92,299.73 238.15,297.18 236.90,294.20 C235.65,291.22 234.90,287.68 235.40,283.70 Z" fill="none" stroke="#98b8f4" stroke-width="1.5"/>
<path d="M406.56,106.44 L407.27,107.41 L407.87,108.43 L408.36,109.51 L408.72,110.64 L408.94,111.82 L409.02,113.05 L408.93,114.32 L408.68,115.63 L408.27,116.96 L407.69,118.31 L406.94,119.66 L406.03,121.02 L404.97,122.36 L403.76,123.69 L402.42,124.99 L400.97,126.25 L399.40,127.48 L397.75,128.65 L396.03,129.78 L394.25,130.85 L392.43,131.87 L390.57,132.84 L388.70,133.75 L386.82,134.62 L384.94,135.44 L383.07,136.21 L381.21,136.95 L379.36,137.65 L377.52,138.31 L375.68,138.95 L373.86,139.55 L372.03,140.13 L370.20,140.69 L368.36,141.21 L366.50,141.70 L364.63,142.16 L362.73,142.58 L360.82,142.96 L358.88,143.28 L356.93,143.55 L354.97,143.76 L353.01,143.89 L351.05,143.95 L349.11,143.92 L347.20,143.81 L345.34,143.61 L343.53,143.31 L341.81,142.91 L340.17,142.42 L338.64,141.84 L337.22,141.17 L335.94,140.42 L334.79,139.58 L333.79,138.67 L332.95,137.70 L332.25,136.67 L331.72,135.59 L331.33,134.47 L331.08,133.33 L330.98,132.15 L331.00,130.96 L331.14,129.76 L331.39,128.55 L331.74,127.34 L332.17,126.13 L332.67,124.92 L333.23,123.71 L333.85,122.51 L334.52,121.30 L335.23,120.09 L335.98,118.87 L336.77,117.65 L337.59,116.42 L338.46,115.18 L339.37,113.93 L340.33,112.67 L341.35,111.40 L342.43,110.13 L343.59,108.86 L344.82,107.59 L346.13,106.34 L347.53,105.10 L349.01,103.89 L350.58,102.71 L352.24,101.59 L353.99,100.51 L355.81,99.51 L357.70,98.57 L359.66,97.72 L361.66,96.96 L363.70,96.30 L365.77,95.73 L367.84,95.26 L369.91,94.90 L371.97,94.64 L373.99,94.48 L375.97,94.41 L377.91,94.43 L379.78,94.54 L381.59,94.73 L383.34,94.98 L385.01,95.30 L386.62,95.67 L388.16,96.08 L389.63,96.53 L391.05,97.01 L392.41,97.52 L393.73,98.05 L395.00,98.61 L396.23,99.18 L397.43,99.77 L398.60,100.38 L399.74,101.01 L400.85,101.67 L401.93,102.36 L402.96,103.09 L403.96,103.86 L404.89,104.67 L405.76,105.53 Z" fill="none" stroke="#7a0a7a" stroke-width="1.45"/>
<path d="M407.65,305.31 L406.89,306.15 L406.05,306.95 L405.14,307.69 L404.18,308.39 L403.16,309.05 L402.10,309.68 L400.99,310.29 L399.85,310.88 L398.68,311.44 L397.46,312.00 L396.20,312.53 L394.90,313.06 L393.56,313.57 L392.16,314.06 L390.70,314.52 L389.19,314.95 L387.61,315.34 L385.96,315.69 L384.24,315.97 L382.46,316.20 L380.61,316.35 L378.71,316.41 L376.75,316.39 L374.74,316.27 L372.70,316.05 L370.63,315.73 L368.55,315.30 L366.46,314.77 L364.39,314.14 L362.34,313.42 L360.34,312.60 L358.38,311.69 L356.48,310.72 L354.64,309.67 L352.89,308.57 L351.21,307.42 L349.62,306.23 L348.12,305.02 L346.69,303.79 L345.36,302.54 L344.10,301.29 L342.91,300.04 L341.79,298.79 L340.74,297.55 L339.74,296.31 L338.79,295.08 L337.88,293.86 L337.02,292.64 L336.21,291.42 L335.43,290.20 L334.69,288.98 L334.00,287.76 L333.36,286.53 L332.78,285.29 L332.26,284.05 L331.82,282.81 L331.47,281.56 L331.22,280.32 L331.07,279.09 L331.05,277.88 L331.16,276.69 L331.41,275.54 L331.80,274.43 L332.35,273.37 L333.05,272.37 L333.91,271.45 L334.92,270.60 L336.08,269.84 L337.38,269.17 L338.81,268.59 L340.37,268.12 L342.04,267.74 L343.80,267.47 L345.64,267.28 L347.55,267.19 L349.51,267.19 L351.51,267.27 L353.53,267.42 L355.56,267.64 L357.60,267.91 L359.63,268.24 L361.64,268.60 L363.64,269.00 L365.62,269.43 L367.58,269.89 L369.51,270.37 L371.43,270.87 L373.34,271.39 L375.23,271.93 L377.12,272.49 L379.00,273.08 L380.88,273.71 L382.76,274.37 L384.64,275.07 L386.52,275.83 L388.39,276.64 L390.26,277.50 L392.10,278.43 L393.92,279.42 L395.70,280.48 L397.43,281.60 L399.10,282.78 L400.69,284.02 L402.20,285.30 L403.60,286.64 L404.88,288.00 L406.04,289.39 L407.06,290.80 L407.93,292.21 L408.65,293.61 L409.21,295.00 L409.62,296.35 L409.86,297.66 L409.95,298.93 L409.89,300.15 L409.69,301.31 L409.35,302.40 L408.89,303.43 L408.32,304.40 Z" fill="none" stroke="#7a0a7a" stroke-width="1.45"/>
<line x1="78.8" y1="101.70" x2="684.8" y2="101.70" stroke="#8a8a8a" stroke-width="1.25"/>
<line x1="373.60" y1="3" x2="373.60" y2="408.2" stroke="#8a8a8a" stroke-width="1.25"/>
</g>
<rect x="78.8" y="3" width="606" height="405.2" fill="none" stroke="#000" stroke-width="2"/>
<path d="M78.76,408.2v-6.0 M78.76,3v6.0 M95.14,408.2v-6.0 M95.14,3v6.0 M111.52,408.2v-11.6 M111.52,3v11.6 M127.90,408.2v-6.0 M127.90,3v6.0 M144.28,408.2v-6.0 M144.28,3v6.0 M160.66,408.2v-6.0 M160.66,3v6.0 M177.04,408.2v-11.6 M177.04,3v11.6 M193.42,408.2v-6.0 M193.42,3v6.0 M209.80,408.2v-6.0 M209.80,3v6.0 M226.18,408.2v-6.0 M226.18,3v6.0 M242.56,408.2v-11.6 M242.56,3v11.6 M258.94,408.2v-6.0 M258.94,3v6.0 M275.32,408.2v-6.0 M275.32,3v6.0 M291.70,408.2v-6.0 M291.70,3v6.0 M308.08,408.2v-11.6 M308.08,3v11.6 M324.46,408.2v-6.0 M324.46,3v6.0 M340.84,408.2v-6.0 M340.84,3v6.0 M357.22,408.2v-6.0 M357.22,3v6.0 M373.60,408.2v-11.6 M373.60,3v11.6 M389.98,408.2v-6.0 M389.98,3v6.0 M406.36,408.2v-6.0 M406.36,3v6.0 M422.74,408.2v-6.0 M422.74,3v6.0 M439.12,408.2v-11.6 M439.12,3v11.6 M455.50,408.2v-6.0 M455.50,3v6.0 M471.88,408.2v-6.0 M471.88,3v6.0 M488.26,408.2v-6.0 M488.26,3v6.0 M504.64,408.2v-11.6 M504.64,3v11.6 M521.02,408.2v-6.0 M521.02,3v6.0 M537.40,408.2v-6.0 M537.40,3v6.0 M553.78,408.2v-6.0 M553.78,3v6.0 M570.16,408.2v-11.6 M570.16,3v11.6 M586.54,408.2v-6.0 M586.54,3v6.0 M602.92,408.2v-6.0 M602.92,3v6.0 M619.30,408.2v-6.0 M619.30,3v6.0 M635.68,408.2v-11.6 M635.68,3v11.6 M652.06,408.2v-6.0 M652.06,3v6.0 M668.44,408.2v-6.0 M668.44,3v6.0 M684.82,408.2v-6.0 M684.82,3v6.0 M78.8,403.01h8.9 M684.8,403.01h-8.9 M78.8,392.62h8.9 M684.8,392.62h-8.9 M78.8,382.23h8.9 M684.8,382.23h-8.9 M78.8,371.84h8.9 M684.8,371.84h-8.9 M78.8,361.45h17.8 M684.8,361.45h-17.8 M78.8,351.06h8.9 M684.8,351.06h-8.9 M78.8,340.67h8.9 M684.8,340.67h-8.9 M78.8,330.28h8.9 M684.8,330.28h-8.9 M78.8,319.89h8.9 M684.8,319.89h-8.9 M78.8,309.50h17.8 M684.8,309.50h-17.8 M78.8,299.11h8.9 M684.8,299.11h-8.9 M78.8,288.72h8.9 M684.8,288.72h-8.9 M78.8,278.33h8.9 M684.8,278.33h-8.9 M78.8,267.94h8.9 M684.8,267.94h-8.9 M78.8,257.55h17.8 M684.8,257.55h-17.8 M78.8,247.16h8.9 M684.8,247.16h-8.9 M78.8,236.77h8.9 M684.8,236.77h-8.9 M78.8,226.38h8.9 M684.8,226.38h-8.9 M78.8,215.99h8.9 M684.8,215.99h-8.9 M78.8,205.60h17.8 M684.8,205.60h-17.8 M78.8,195.21h8.9 M684.8,195.21h-8.9 M78.8,184.82h8.9 M684.8,184.82h-8.9 M78.8,174.43h8.9 M684.8,174.43h-8.9 M78.8,164.04h8.9 M684.8,164.04h-8.9 M78.8,153.65h17.8 M684.8,153.65h-17.8 M78.8,143.26h8.9 M684.8,143.26h-8.9 M78.8,132.87h8.9 M684.8,132.87h-8.9 M78.8,122.48h8.9 M684.8,122.48h-8.9 M78.8,112.09h8.9 M684.8,112.09h-8.9 M78.8,101.70h17.8 M684.8,101.70h-17.8 M78.8,91.31h8.9 M684.8,91.31h-8.9 M78.8,80.92h8.9 M684.8,80.92h-8.9 M78.8,70.53h8.9 M684.8,70.53h-8.9 M78.8,60.14h8.9 M684.8,60.14h-8.9 M78.8,49.75h17.8 M684.8,49.75h-17.8 M78.8,39.36h8.9 M684.8,39.36h-8.9 M78.8,28.97h8.9 M684.8,28.97h-8.9 M78.8,18.58h8.9 M684.8,18.58h-8.9 M78.8,8.19h8.9 M684.8,8.19h-8.9" stroke="#000" stroke-width="1.6" fill="none"/>
<text transform="translate(69,56.55) scale(1,1.06)" text-anchor="end" font-family="Liberation Sans" font-weight="bold" font-size="18">1.5</text>
<text transform="translate(69,108.50) scale(1,1.06)" text-anchor="end" font-family="Liberation Sans" font-weight="bold" font-size="18">1</text>
<text transform="translate(69,160.45) scale(1,1.06)" text-anchor="end" font-family="Liberation Sans" font-weight="bold" font-size="18">0.5</text>
<text transform="translate(69,212.40) scale(1,1.06)" text-anchor="end" font-family="Liberation Sans" font-weight="bold" font-size="18">0</text>
<text transform="translate(69,264.35) scale(1,1.06)" text-anchor="end" font-family="Liberation Sans" font-weight="bold" font-size="18">-0.5</text>
<text transform="translate(69,316.30) scale(1,1.06)" text-anchor="end" font-family="Liberation Sans" font-weight="bold" font-size="18">-1</text>
<text transform="translate(69,368.25) scale(1,1.06)" text-anchor="end" font-family="Liberation Sans" font-weight="bold" font-size="18">-1.5</text>
<text transform="translate(110.12,431) scale(1,1.06)" text-anchor="middle" font-family="Liberation Sans" font-weight="bold" font-size="18.5">0.2</text>
<text transform="translate(175.64,431) scale(1,1.06)" text-anchor="middle" font-family="Liberation Sans" font-weight="bold" font-size="18.5">0.4</text>
<text transform="translate(241.16,431) scale(1,1.06)" text-anchor="middle" font-family="Liberation Sans" font-weight="bold" font-size="18.5">0.6</text>
<text transform="translate(306.68,431) scale(1,1.06)" text-anchor="middle" font-family="Liberation Sans" font-weight="bold" font-size="18.5">0.8</text>
<text transform="translate(372.20,431) scale(1,1.06)" text-anchor="middle" font-family="Liberation Sans" font-weight="bold" font-size="18.5">1</text>
<text transform="translate(437.72,431) scale(1,1.06)" text-anchor="middle" font-family="Liberation Sans" font-weight="bold" font-size="18.5">1.2</text>
<text transform="translate(503.24,431) scale(1,1.06)" text-anchor="middle" font-family="Liberation Sans" font-weight="bold" font-size="18.5">1.4</text>
<text transform="translate(568.76,431) scale(1,1.06)" text-anchor="middle" font-family="Liberation Sans" font-weight="bold" font-size="18.5">1.6</text>
<text transform="translate(634.28,431) scale(1,1.06)" text-anchor="middle" font-family="Liberation Sans" font-weight="bold" font-size="18.5">1.8</text>
<g><path d="M653.6,445.7 L656.4,444.6 L657.1,444.6 L657.2,456.4 L655.2,456.4 L655.3,446 Z" fill="#000"/><path d="M657,450.6 L663.6,446.1" stroke="#000" stroke-width="1.2" fill="none"/><circle cx="664.8" cy="445.5" r="1.3" fill="#000"/><path d="M657.3,449.6 L658.9,448.3 L666,456.1 L663.3,456.1 Z" fill="#000"/><path d="M661.8,456 H666.6" stroke="#000" stroke-width="0.9"/><text x="667" y="463.5" font-family="Liberation Sans" font-weight="bold" font-size="17">V</text></g>
<g transform="matrix(0,-1,1,0,-434.75,676.5)"><path d="M653.6,445.7 L656.4,444.6 L657.1,444.6 L657.2,456.4 L655.2,456.4 L655.3,446 Z" fill="#000"/><path d="M657,450.6 L663.6,446.1" stroke="#000" stroke-width="1.2" fill="none"/><circle cx="664.8" cy="445.5" r="1.3" fill="#000"/><path d="M657.3,449.6 L658.9,448.3 L666,456.1 L663.3,456.1 Z" fill="#000"/><path d="M661.8,456 H666.6" stroke="#000" stroke-width="0.9"/><text x="666.1" y="464.3" font-family="Liberation Sans" font-weight="bold" font-size="17">F</text></g>
<text x="665.5" y="95.8" text-anchor="end" font-family="Liberation Sans" font-size="18" fill="#888">SM</text>
<rect x="100.5" y="17.8" width="36.3" height="19" fill="#c0c0c0"/>
<rect x="109.8" y="17.8" width="18.2" height="19" fill="#707070"/>
<text x="144.3" y="33" font-family="Liberation Sans" font-size="15.75" fill="#3c3c3c">All channels (68% &amp; 95% CL allowed regions)</text>
<text x="100" y="152" font-family="Liberation Sans" font-size="17.9" fill="#000">68% fit contours</text>
<rect x="100.1" y="161.00" width="37.2" height="18.6" fill="#aadcfc"/>
<text transform="translate(144.8,176.00) scale(0.95,1)" font-family="Liberation Sans" font-size="16.3" fill="#98b8f4">H</text>
<path d="M155.3,171.70H169M164.8,168.10L169.2,171.70L164.8,175.30" fill="none" stroke="#98b8f4" stroke-width="1.1"/>
<text transform="translate(169.6,176.00)" font-family="Liberation Serif" font-size="18.5" fill="#98b8f4">γγ</text>
<rect x="100.1" y="183.30" width="37.2" height="18.6" fill="#fec41c"/>
<text transform="translate(144.8,198.30) scale(0.95,1)" font-family="Liberation Sans" font-size="16.3" fill="#b8902a">H</text>
<path d="M155.3,194.00H169M164.8,190.40L169.2,194.00L164.8,197.60" fill="none" stroke="#b8902a" stroke-width="1.1"/>
<text transform="translate(170.4,198.30) scale(0.95,1)" font-family="Liberation Sans" font-size="16.3" fill="#b8902a">ZZ</text>
<rect x="100.1" y="205.60" width="37.2" height="18.6" fill="#cc66ff"/>
<text transform="translate(144.8,220.60) scale(0.95,1)" font-family="Liberation Sans" font-size="16.3" fill="#7a0a7a">H</text>
<path d="M155.3,216.30H169M164.8,212.70L169.2,216.30L164.8,219.90" fill="none" stroke="#7a0a7a" stroke-width="1.1"/>
<text transform="translate(170.4,220.60) scale(0.95,1)" font-family="Liberation Sans" font-size="16.3" fill="#7a0a7a">WW</text>
<rect x="100.1" y="227.90" width="37.2" height="18.6" fill="#18c03c"/>
<text transform="translate(144.8,242.90) scale(0.95,1)" font-family="Liberation Sans" font-size="16.3" fill="#0e8a2a">H</text>
<path d="M155.3,238.60H169M164.8,235.00L169.2,238.60L164.8,242.20" fill="none" stroke="#0e8a2a" stroke-width="1.1"/>
<text transform="translate(170.4,242.90) scale(0.95,1)" font-family="Liberation Sans" font-size="16.3" fill="#0e8a2a">bb</text>
<rect x="100.1" y="250.20" width="37.2" height="18.6" fill="#b4f01c"/>
<text transform="translate(144.8,265.20) scale(0.95,1)" font-family="Liberation Sans" font-size="16.3" fill="#7ca81c">H</text>
<path d="M155.3,260.90H169M164.8,257.30L169.2,260.90L164.8,264.50" fill="none" stroke="#7ca81c" stroke-width="1.1"/>
<text transform="translate(169.6,265.20)" font-family="Liberation Serif" font-size="18.5" fill="#7ca81c">ττ</text>
</svg>
</body></html>
